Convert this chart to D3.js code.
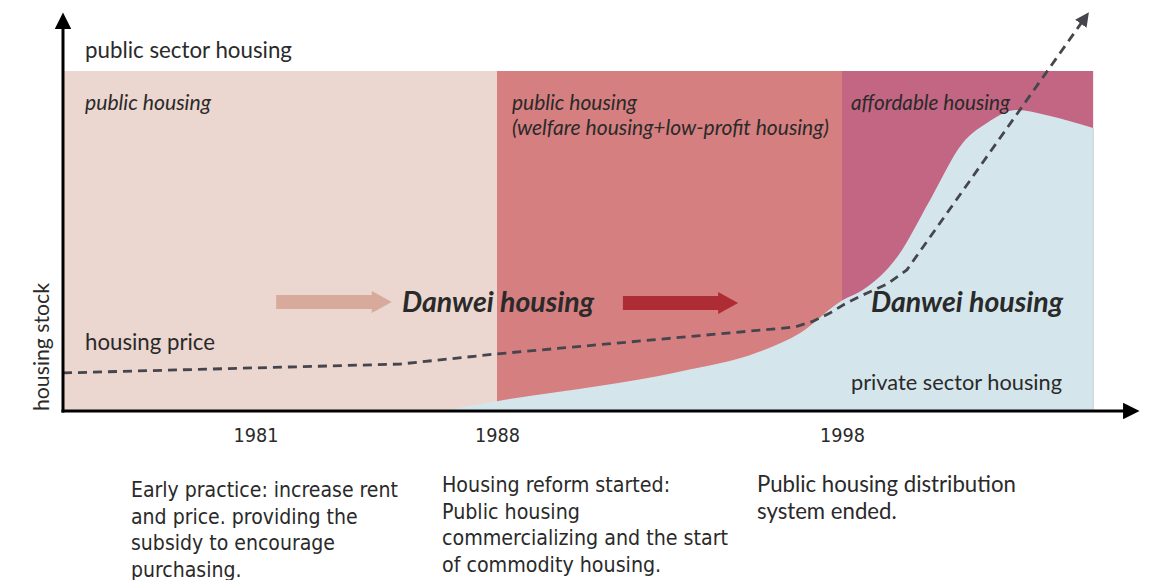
<!DOCTYPE html>
<html><head><meta charset="utf-8">
<script src="https://cdn.jsdelivr.net/npm/d3@7"></script>
<style>
body{margin:0;background:#fff;}
svg{display:block;}
.lbl{font-family:Lato,"Noto Sans",sans-serif;fill:#2a2a2a;}
.narrow{font-family:"DejaVu Sans Condensed","Liberation Sans Narrow",sans-serif;fill:#2a2a2a;}
</style>
</head><body>
<svg id="c" width="1152" height="580"></svg>
<script>
// ---------- data ----------
const bandStarts = [1975.42, 1988, 1998];
const bandEnds   = [1988, 1998, 2005.28];
const bandColors = ["#ebd6d0", "#d67f80", "#c26683"];
const bandLabels = [["public housing"], ["public housing", "(welfare housing+low-profit housing)"], ["affordable housing"]];
const bandTop = 100;

const privateYears  = [1986.4, 1988, 1991, 1993.25, 1995.6, 1996.8, 1998, 1998.6, 1999.6, 2000.55, 2001.5, 2002.2, 2003.07, 2003.94, 2005.28];
const privateValues = [0, 2.9, 7.4, 11.5, 17.4, 23, 32.5, 35.6, 45.3, 62, 78.8, 84.7, 88.5, 87, 83.2];

const priceYears  = [1975.42, 1985.19, 1988, 1996.64, 1997.16, 1997.65, 1998.1, 1998.6, 1999.3, 1999.88, 2005.04];
const priceValues = [11.2, 13.8, 16.8, 24.7, 26.4, 28.8, 31.6, 34.1, 37.3, 41.5, 115.6];

const tickYears = [1981, 1988, 1998];
const notes = [
  ["Early practice: increase rent", "and price. providing the", "subsidy to encourage", "purchasing."],
  ["Housing reform started:", "Public housing", "commercializing and the start", "of commodity housing."],
  ["Public housing distribution", "system ended."]
];
const noteX = [131, 442, 757];
const noteY = [497, 492, 492];

// ---------- helpers ----------
function fit(sel, w) {
  const n = sel.node();
  const fs = parseFloat(sel.attr("font-size"));
  const cur = n.getComputedTextLength();
  sel.attr("font-size", (fs * w / cur).toFixed(2));
  return sel;
}

// ---------- scales ----------
const svg = d3.select("#c");
const x = d3.scaleLinear().domain([1975.42, 2006.58]).range([63, 1138]);
const y = d3.scaleLinear().domain([0, 100]).range([411, 71]);

// bands
svg.append("g").selectAll("rect").data(bandStarts).join("rect")
  .attr("x", (d) => x(d))
  .attr("y", y(bandTop))
  .attr("width", (d, i) => x(bandEnds[i]) - x(d))
  .attr("height", y(0) - y(bandTop))
  .attr("fill", (d, i) => bandColors[i]);

// private sector area
const pts = privateYears.map((d, i) => [d, privateValues[i]]);
const area = d3.area().x(d => x(d[0])).y0(y(0)).y1(d => y(d[1])).curve(d3.curveMonotoneX);
svg.append("path").datum(pts).attr("d", area).attr("fill", "#d4e6ec");
svg.append("line").attr("x1", x(2005.28)).attr("x2", x(2005.28)).attr("y1", y(privateValues[privateValues.length-1])).attr("y2", y(0))
  .attr("stroke", "#c9d3de").attr("stroke-width", 1);

// band labels
const bandLabelW = [[126], [125, 317], [159]];
bandLabels.forEach((lines, i) => {
  lines.forEach((t, j) => {
    const s = svg.append("text").attr("class", "lbl")
      .attr("x", x(bandStarts[i]) + (i === 0 ? 22 : (i === 1 ? 15 : 9)))
      .attr("y", 110 + j * 25)
      .attr("font-size", 17.5).attr("font-style", "italic")
      .attr("fill", "#2a2020").text(t);
    fit(s, bandLabelW[i][j]);
  });
});

// block arrows
function blockArrow(x0, x1, cy, color) {
  const h = 7, H = 11, hl = 20;
  svg.append("path")
    .attr("d", `M${x0},${cy-h}L${x1-hl},${cy-h}L${x1-hl},${cy-H}L${x1},${cy}L${x1-hl},${cy+H}L${x1-hl},${cy+h}L${x0},${cy+h}Z`)
    .attr("fill", color);
}
blockArrow(x(1981.6), x(1984.95), 302, "#d8aa9c");
blockArrow(x(1991.65), x(1994.99), 303, "#ae2d35");

// Danwei housing labels
[[402, 312], [871, 312]].forEach(p => {
  const s = svg.append("text").attr("class", "lbl")
    .attr("x", p[0]).attr("y", p[1])
    .attr("font-size", 24).attr("font-weight", "bold").attr("font-style", "italic")
    .attr("fill", "#0a0a0a").text("Danwei housing");
  fit(s, 192);
});

// price line
const defs = svg.append("defs");
defs.append("marker").attr("id", "ph").attr("viewBox", "0 0 10 10").attr("refX", 5).attr("refY", 5)
  .attr("markerWidth", 5).attr("markerHeight", 5).attr("orient", "auto")
  .append("path").attr("d", "M0,0L10,5L0,10Z").attr("fill", "#45454d");
defs.append("marker").attr("id", "ax").attr("viewBox", "0 0 10 10").attr("refX", 3).attr("refY", 5)
  .attr("markerWidth", 5.5).attr("markerHeight", 5.5).attr("orient", "auto")
  .append("path").attr("d", "M0,0L10,5L0,10Z").attr("fill", "#000");

const line = d3.line().x(d => x(d[0])).y(d => y(d[1]));
svg.append("path").datum(priceYears.map((d, i) => [d, priceValues[i]]))
  .attr("d", line).attr("fill", "none").attr("stroke", "#45454d")
  .attr("stroke-width", 2.8).attr("stroke-dasharray", "9,6")
  .attr("marker-end", "url(#ph)");

// axes lines
svg.append("line").attr("x1", 63).attr("y1", y(0) + 1.5).attr("x2", 63).attr("y2", 24)
  .attr("stroke", "#000").attr("stroke-width", 3).attr("marker-end", "url(#ax)");
svg.append("line").attr("x1", 61.5).attr("y1", y(0)).attr("x2", 1128).attr("y2", y(0))
  .attr("stroke", "#000").attr("stroke-width", 3).attr("marker-end", "url(#ax)");

// tick labels via axis
const ax = svg.append("g").attr("transform", `translate(0,${y(0)})`)
  .call(d3.axisBottom(x).tickValues(tickYears).tickSize(0).tickPadding(17).tickFormat(d3.format("d")));
ax.select(".domain").remove();
ax.selectAll("text").attr("class", "narrow").attr("font-size", 19).attr("fill", "#222");
ax.selectAll("text").each(function() { fit(d3.select(this), 45); });

// other labels
fit(svg.append("text").attr("class", "lbl").attr("x", 85).attr("y", 58).attr("font-size", 20).text("public sector housing"), 207);
fit(svg.append("text").attr("class", "lbl").attr("x", 85).attr("y", 350).attr("font-size", 20).text("housing price"), 130);
fit(svg.append("text").attr("class", "lbl").attr("x", 851).attr("y", 390).attr("font-size", 19).text("private sector housing"), 211);
fit(svg.append("text").attr("class", "lbl").attr("transform", "translate(49,411) rotate(-90)")
  .attr("font-size", 20).text("housing stock"), 128);

// notes
const noteW = [267, 286, 259];
const noteRef = [0, 2, 0];
notes.forEach((lines, i) => {
  const sels = lines.map((t, j) => svg.append("text").attr("class", i === 2 ? "lbl" : "narrow")
      .attr("x", noteX[i]).attr("y", noteY[i] + j * 26.5)
      .attr("font-size", 20).text(t));
  const r = sels[noteRef[i]].node().getComputedTextLength();
  const fs = (20 * noteW[i] / r).toFixed(2);
  sels.forEach(s => s.attr("font-size", fs));
});
</script>
</body></html>
